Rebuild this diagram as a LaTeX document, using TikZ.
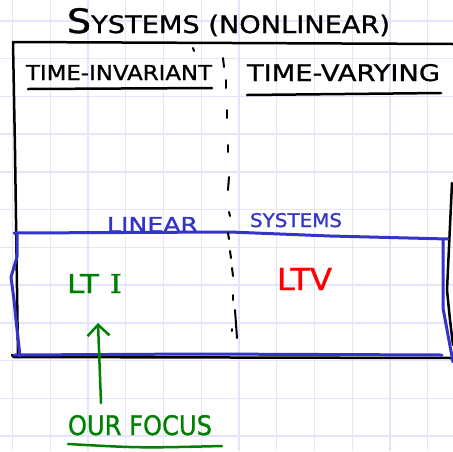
\documentclass[tikz,border=0pt]{standalone}
\usepackage{fontspec}
\setmainfont{DejaVu Sans}[FakeBold=1]
\newfontfamily\serifI{DejaVu Serif}[FakeBold=1]
\usetikzlibrary{arrows.meta}
\definecolor{gridc}{RGB}{228,228,250}
\definecolor{penblue}{RGB}{52,52,200}
\definecolor{pengreen}{RGB}{0,128,0}
\definecolor{penred}{RGB}{255,0,0}
\newcommand\fitto[3]{\resizebox{#1pt}{#2pt}{#3}}
\begin{document}
\begin{tikzpicture}[x=1pt,y=-1pt,
  ink/.style={line width=2.5pt, line cap=round, line join=round},
  txt/.style={anchor=base west, inner sep=0pt, outer sep=0pt},
  gridline/.style={gridc, line width=1.4pt},
  tick/.style={ink, line width=2pt},
  blueink/.style={ink, penblue, line width=3pt},
]
\fill[white] (0,0) rectangle (453,451);
\useasboundingbox (0,0) rectangle (453,451);
\foreach \k in {0,...,11} {
  \draw[gridline] ({12.5+37.75*\k},0) -- ({12.5+37.75*\k},451);
  \draw[gridline] (0,{20.8+37.75*\k}) -- (453,{20.8+37.75*\k});
}
% texts
\node[txt] (title) at (67,33) {\fitto{323}{25}{{\fontsize{14}{14}\selectfont S}YSTEMS (NONLINEAR)}};
\node[txt] (ti) at (26,80) {\fitto{186}{15}{TIME-INVARIANT}};
\node[txt] (tv) at (247,81) {\fitto{193}{17}{TIME-VARYING}};
\node[txt, text=penblue] (lin) at (107,232) {\fitto{91}{15}{LINEAR}};
\node[txt, text=penblue] (sys) at (250,227) {\fitto{92}{14}{SYSTEMS}};
\node[txt, text=pengreen] (lti) at (67,293) {\fitto{55}{19}{LT\kern0.35em{\serifI I}}};
\node[txt, text=penred] (ltv) at (277,290) {\fitto{55}{22}{LTV}};
\node[txt, text=pengreen] (focus) at (68,435) {\fitto{144}{20}{OUR FOCUS}};
% underlines
\draw[ink] (28,89) -- (212,88);
\draw[ink] (247,95) -- (441,93);
\draw[ink, pengreen] (68,444) .. controls (140,448) .. (222,446);
% black frame
\draw[ink] (453,44) -- (13,42) -- (15,150) -- (18,357);
\draw[ink] (12,355) -- (14,357) -- (453,358);
\draw[ink] (452,183) -- (447,290) -- (450,320) -- (453,345);
% blue box
\draw[blueink] (14,233) -- (230,232) -- (330,236) -- (448,239);
\draw[blueink] (443,239) -- (443,308) -- (453,362);
\draw[blueink] (17,233) -- (17,257) -- (11,277) -- (14,300) -- (16,320) -- (20,356);
\draw[blueink] (14,355) -- (200,354) -- (442,355);
% dash-dot divider
\draw[tick] (193,48) -- (194,51);
\draw[tick] (223,58) -- (224,67);
\draw[tick] (226,80) -- (226,88);
\draw[tick] (227,110) -- (227,118);
\draw[tick] (228,145) -- (228,152);
\draw[tick] (229,177) -- (228,190);
\draw[tick] (229,212) -- (230,216);
\draw[tick] (228,233) -- (229,239);
\draw[tick] (230,251) -- (231,258);
\draw[tick] (232,268) -- (233,276);
\draw[tick] (233,295) -- (233,300);
\draw[tick] (235,310) -- (237,338);
\draw[tick] (232,329) -- (232,331);
% arrow
\coordinate (fs) at (101,403);
\coordinate (ft) at (98,323);
\draw[ink, pengreen, -{Straight Barb[length=11pt, width=22pt]}] (fs) -- (ft);
\end{tikzpicture}
\end{document}
